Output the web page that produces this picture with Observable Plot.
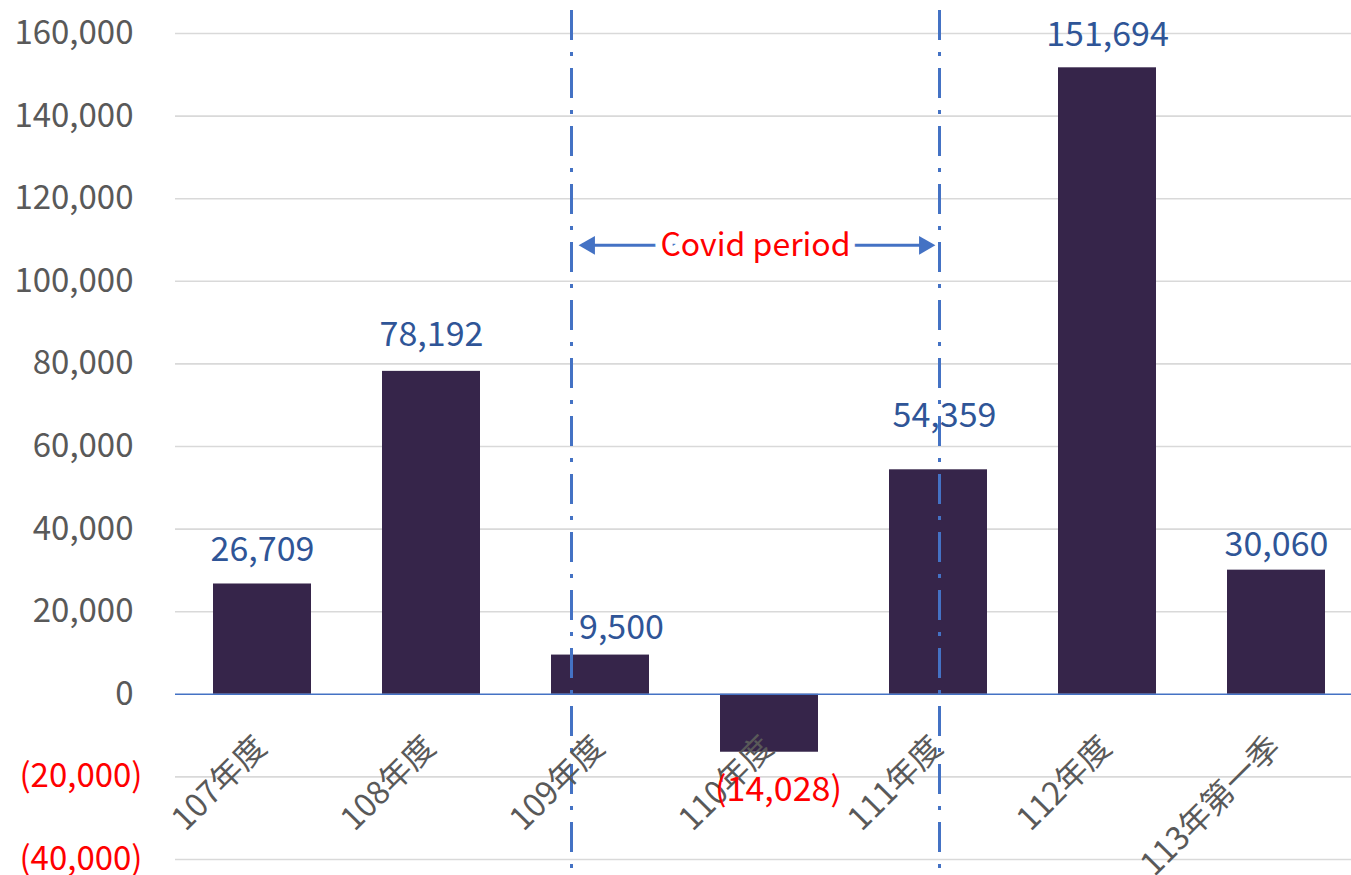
<!DOCTYPE html>
<html>
<head>
<meta charset="utf-8">
<script src="https://cdn.jsdelivr.net/npm/d3@7"></script>
<script src="https://cdn.jsdelivr.net/npm/@observablehq/plot@0.6"></script>
<style>
  html, body { margin: 0; padding: 0; background: #fff; }
  #chart svg { display: block; }
</style>
</head>
<body>
<div id="chart"></div>
<script>
// ---- data ----
const categories = ["107年度", "108年度", "109年度", "110年度", "111年度", "112年度", "113年第一季"];
const values = [26709, 78192, 9500, -14028, 54359, 151694, 30060];
const yTicks = [-40000, -20000, 0, 20000, 40000, 60000, 80000, 100000, 120000, 140000, 160000];
const covidStart = "109年度";
const covidEnd = "111年度";
const covidLabel = "Covid period";
const covidLabelY = 108700;

// ---- label nudges (style) ----
const labelNudge = {
  "107年度": [0, -34],
  "108年度": [0, -36],
  "109年度": [21, -27],
  "110年度": [9, 38],
  "111年度": [6, -54],
  "112年度": [0, -33],
  "113年第一季": [0, -25]
};

const data = categories.map((c, i) => ({cat: c, value: values[i]}));
const fmt = d3.format(",");
const fmtAcct = v => v < 0 ? `(${fmt(-v)})` : fmt(v);

const FONT = "'Noto Sans CJK TC', 'Noto Sans', sans-serif";
const BLUE = "#4472C4";
const FS = 33;

const labelMarks = data.map(d => Plot.text([d], {
  x: "cat",
  y: "value",
  text: r => fmtAcct(r.value),
  fill: d.value < 0 ? "#FF0000" : "#2F5597",
  fontSize: 34,
  textAnchor: "middle",
  lineAnchor: "middle",
  dx: labelNudge[d.cat][0],
  dy: labelNudge[d.cat][1]
}));

const dash = "30 12 4 12";

const chart = Plot.plot({
  width: 1351,
  height: 875,
  marginTop: 33,
  marginBottom: 16,
  marginLeft: 175,
  marginRight: 0,
  style: {fontFamily: FONT, fontSize: FS + "px", background: "#fff"},
  x: {domain: categories, range: [176, 1363], paddingInner: 0.42, paddingOuter: 0.21, align: 0.5, axis: null},
  y: {domain: [-40000, 160000]},
  marks: [
    Plot.gridY(yTicks.filter(t => t !== 0), {stroke: "#D9D9D9", strokeOpacity: 1, strokeWidth: 1.6}),
    Plot.axisY(yTicks.filter(t => t >= 0), {tickSize: 0, tickPadding: 42, tickFormat: fmtAcct, fill: "#595959", fontSize: FS, label: null}),
    Plot.axisY(yTicks.filter(t => t < 0), {tickSize: 0, tickPadding: 33, tickFormat: fmtAcct, fill: "#FF0000", fontSize: FS, label: null}),
    Plot.barY(data, {x: "cat", y: "value", fill: "#36254A"}),
    Plot.ruleY([0], {stroke: BLUE, strokeWidth: 1.5}),
    // covid period boundaries
    Plot.ruleX([covidStart], {stroke: BLUE, strokeWidth: 3, strokeDasharray: dash, dx: -29, insetTop: -23, insetBottom: -16}),
    Plot.ruleX([covidEnd], {stroke: BLUE, strokeWidth: 3, strokeDasharray: dash, dx: 1, insetTop: -23, insetBottom: -16}),
    // covid arrow
    Plot.ruleY([covidLabelY], {x1: () => covidStart, x2: () => covidEnd, stroke: BLUE, strokeWidth: 3, insetLeft: 31, insetRight: 56}),
    Plot.dot([covidStart], {x: d => d, y: () => covidLabelY, symbol: "triangle", r: 7, fill: BLUE, stroke: "none", rotate: -90, dx: -11}),
    Plot.dot([covidEnd], {x: d => d, y: () => covidLabelY, symbol: "triangle", r: 7, fill: BLUE, stroke: "none", rotate: 90, dx: -14}),
    Plot.text([covidLabel], {x: () => "110年度", y: () => covidLabelY, text: d => d, fill: "#FF0000", fontSize: 32, dx: -14, stroke: "#fff", strokeWidth: 14, paintOrder: "stroke", lineAnchor: "middle"}),
    // category labels
    Plot.text(categories, {x: d => d, y: () => 0, text: d => d, rotate: -45, textAnchor: "end", lineAnchor: "bottom", fill: "#595959", fontSize: 32, dx: 6, dy: 55}),
    ...labelMarks
  ]
});
document.getElementById("chart").appendChild(chart);
</script>
</body>
</html>
